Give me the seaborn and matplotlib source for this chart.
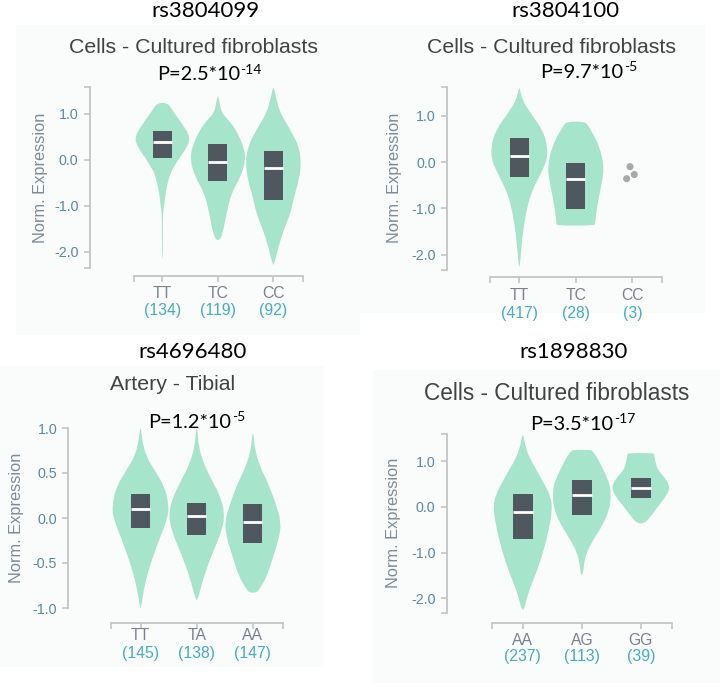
# GTEx style eQTL violin plots, four SNPs

import numpy as np
import matplotlib.pyplot as plt
import seaborn as sns
from matplotlib.path import Path
from matplotlib.patches import PathPatch, Rectangle

# ---- data ----
# panel 1
p1_snp = 'rs3804099'
p1_tissue = 'Cells - Cultured fibroblasts'
p1_pval = ('2.5', '-14')
p1_genos = ['TT', 'TC', 'CC']
p1_counts = [134, 119, 92]
p1_yticks = [-2.0, -1.0, 0.0, 1.0]
p1_y = [[-2.15, -1.6, -1.15, -1.0, -0.65, -0.29, -0.15, 0.0, 0.29, 0.51, 0.80, 1.09, 1.24],
        [-1.74, -1.52, -1.16, -0.72, -0.36, 0.0, 0.29, 0.65, 0.85, 1.02, 1.21, 1.39],
        [-2.28, -1.88, -1.52, -1.16, -0.8, -0.43, -0.07, 0.29, 0.65, 1.02, 1.3, 1.58]]
p1_w = [[0.4, 0.5, 0.6, 1.7, 3.7, 8, 12, 16, 26, 28.7, 20, 10, 5.5],
        [2.5, 5.7, 9, 14, 24, 29, 27, 19, 12, 4, 2, 0.5],
        [0.7, 5, 10, 16.7, 20, 25, 27, 25, 16.7, 6.7, 3, 0.5]]
p1_q1 = [0.04, -0.45, -0.87]
p1_med = [0.40, -0.05, -0.17]
p1_q3 = [0.64, 0.34, 0.19]

# panel 2
p2_snp = 'rs3804100'
p2_tissue = 'Cells - Cultured fibroblasts'
p2_pval = ('9.7', '-5')
p2_genos = ['TT', 'TC', 'CC']
p2_counts = [417, 28, 3]
p2_yticks = [-2.0, -1.0, 0.0, 1.0]
p2_y = [[-2.26, -1.83, -1.39, -0.96, -0.6, -0.24, 0.04, 0.33, 0.69, 1.05, 1.34, 1.59],
        [-1.37, -1.33, -1.1, -0.75, -0.39, -0.1, 0.33, 0.62, 0.80, 0.87]]
p2_w = [[0.5, 2, 4.3, 7.7, 12.7, 21, 26.7, 27.3, 22.7, 11, 2.7, 0.5],
        [18.3, 18.6, 19.7, 22.3, 25.7, 27.3, 23, 16.3, 11.5, 8.3]]
p2_q1 = [-0.33, -1.02]
p2_med = [0.13, -0.37]
p2_q3 = [0.52, -0.02]
p2_cc_values = [-0.10, -0.27, -0.36]
p2_cc_jitter = [-0.04, 0.035, -0.10]

# panel 3
p3_snp = 'rs4696480'
p3_tissue = 'Artery - Tibial'
p3_pval = ('1.2', '-5')
p3_genos = ['TT', 'TA', 'AA']
p3_counts = [145, 138, 147]
p3_yticks = [-1.0, -0.5, 0.0, 0.5, 1.0]
p3_y = [[-1.0, -0.8, -0.61, -0.43, -0.21, 0.01, 0.16, 0.35, 0.53, 0.68, 0.87, 1.0],
        [-0.91, -0.73, -0.5, -0.32, -0.13, 0.05, 0.24, 0.42, 0.61, 0.79, 1.0],
        [-0.83, -0.8, -0.65, -0.43, -0.21, -0.04, 0.16, 0.39, 0.57, 0.76, 0.94]]
p3_w = [[0.5, 3, 7, 12, 19, 26.5, 27, 23, 13.8, 5.5, 1.5, 0.5],
        [1, 5, 11.7, 18.3, 25, 27.7, 23.3, 15, 6.7, 2, 0.5],
        [3, 5.8, 13.5, 19.5, 25.5, 27, 22, 14.5, 6.8, 2, 0.5]]
p3_q1 = [-0.11, -0.19, -0.28]
p3_med = [0.10, 0.02, -0.04]
p3_q3 = [0.27, 0.17, 0.16]

# panel 4
p4_snp = 'rs1898830'
p4_tissue = 'Cells - Cultured fibroblasts'
p4_pval = ('3.5', '-17')
p4_genos = ['AA', 'AG', 'GG']
p4_counts = [237, 113, 39]
p4_yticks = [-2.0, -1.0, 0.0, 1.0]
p4_y = [[-2.25, -1.96, -1.74, -1.38, -0.94, -0.5, -0.07, 0.23, 0.59, 0.96, 1.25, 1.58],
        [-1.49, -1.23, -1.01, -0.72, -0.43, -0.07, 0.3, 0.59, 0.96, 1.10, 1.22, 1.25],
        [-0.36, -0.21, 0.01, 0.23, 0.44, 0.66, 0.81, 1.0, 1.15, 1.18]]
p4_w = [[1, 4.5, 7.8, 14.5, 21, 26, 29.5, 28, 19.5, 9.5, 3.3, 0.5],
        [1, 2.2, 4.5, 11, 19.5, 27, 28.8, 26, 17.8, 14.5, 10.5, 9],
        [3.5, 9, 16, 23.5, 27.5, 22, 15.7, 13.5, 12.3, 12]]
p4_q1 = [-0.71, -0.18, 0.19]
p4_med = [-0.12, 0.26, 0.42]
p4_q3 = [0.28, 0.58, 0.64]

# ---- layout (pixels in the 720x683 picture) ----
W, H = 720, 683
layouts = [
    dict(yaxis_x=89.5, cat0=162.4, dx=55.5, zero=160, unit=46, xaxis_y=275.7, ytop=1.59, ybot=-2.35,
         geno_dy=17.6, count_dy=35.3, ylab=(40, 177.5), title=(205.5, 17), tissue=(193.3, 53, 15.3),
         pstart=(156.7, 80.5)),
    dict(yaxis_x=447, cat0=519.3, dx=56.5, zero=162, unit=46.4, xaxis_y=277, ytop=1.61, ybot=-2.33,
         geno_dy=18, count_dy=36.3, ylab=(395, 178), title=(565, 17), tissue=(551.7, 52.7, 15.3),
         pstart=(540, 78)),
    dict(yaxis_x=68.3, cat0=140.5, dx=56.2, zero=518, unit=90, xaxis_y=623.3, ytop=1.0, ybot=-1.0,
         geno_dy=12.5, count_dy=30, ylab=(16.7, 518), title=(192.5, 358.3), tissue=(172.7, 390, 15.3),
         pstart=(148.3, 428)),
    dict(yaxis_x=446.7, cat0=522.8, dx=59, zero=507, unit=45.7, xaxis_y=623.3, ytop=1.6, ybot=-2.32,
         geno_dy=17, count_dy=33.3, ylab=(393.3, 523), title=(574, 358.3), tissue=(556.7, 400, 16.3),
         pstart=(530, 430)),
]
bg_boxes = [(16, 25, 360, 335), (360, 25, 705, 313), (0, 366, 323, 667), (373, 370, 720, 683)]

VIOLIN = '#a6e4cc'
BOX = '#4e585e'
AXIS = '#c4c4c4'
TICK = '#5889a8'
YLAB = '#7c8b99'
GENO = '#7b8190'
COUNT = '#44a9cb'
DOT = '#a8a8a8'

sns.set_theme(style='white')
plt.rcParams['font.family'] = ['Liberation Sans', 'DejaVu Sans']


def violin_path(cx, ys, ws, half):
    # smooth outline through the read widths (quadratic bezier, read points as controls)
    ys = np.asarray(ys, float)
    w = np.asarray(ws, float) / max(ws) * half
    right = np.column_stack([cx + w, ys])
    left = np.column_stack([cx - w, ys])[::-1]
    pts = np.vstack([right, left])
    mids = (pts + np.roll(pts, -1, axis=0)) / 2
    verts = [mids[-1]]
    codes = [Path.MOVETO]
    for i in range(len(pts)):
        verts += [pts[i], mids[i]]
        codes += [Path.CURVE3, Path.CURVE3]
    verts.append(mids[-1])
    codes.append(Path.CLOSEPOLY)
    return Path(verts, codes)


fig = plt.figure(figsize=(W / 100, H / 100), dpi=100)
bg = fig.add_axes([0, 0, 1, 1], zorder=-5)
bg.set_xlim(0, W)
bg.set_ylim(H, 0)
bg.axis('off')
for x0, y0, x1, y1 in bg_boxes:
    bg.add_patch(Rectangle((x0, y0), x1 - x0, y1 - y0, color='#fafbfb', lw=0))


def draw_panel(lay, snp, tissue, pval, genos, counts, yticks, prof_y, prof_w, q1, med, q3,
               dot_vals=None, dot_jit=None):
    x_left = (lay['yaxis_x'] - lay['cat0']) / lay['dx']
    x_right = 2.53
    y_bot = (lay['zero'] - lay['xaxis_y']) / lay['unit']
    y_top = lay['ytop']
    px0, px1 = lay['yaxis_x'], lay['cat0'] + x_right * lay['dx']
    py_top, py_bot = lay['zero'] - y_top * lay['unit'], lay['xaxis_y']
    ax = fig.add_axes([px0 / W, 1 - py_bot / H, (px1 - px0) / W, (py_bot - py_top) / H])
    ax.patch.set_visible(False)

    # violins, boxes, medians
    for i, (ys, ws) in enumerate(zip(prof_y, prof_w)):
        ax.add_patch(PathPatch(violin_path(i, ys, ws, 0.5), fc=VIOLIN, ec='none', zorder=2, clip_on=False))
    cats = np.arange(len(q1))
    ax.bar(cats, np.subtract(q3, q1), bottom=q1, width=0.34, color=BOX, linewidth=0, zorder=3)
    ax.hlines(med, cats - 0.17, cats + 0.17, color='white', lw=2, zorder=4)
    if dot_vals is not None:
        sns.scatterplot(x=2 + np.array(dot_jit), y=dot_vals, ax=ax, color=DOT, s=26,
                        edgecolor='none', zorder=3, legend=False, clip_on=False)

    ax.set_xlim(x_left, x_right)
    ax.set_ylim(y_bot, y_top)
    ax.set_xlabel('')
    ax.set_ylabel('')

    # d3-like axes
    for s in ['top', 'right']:
        ax.spines[s].set_visible(False)
    for s in ['left', 'bottom']:
        ax.spines[s].set_color(AXIS)
        ax.spines[s].set_linewidth(1.3)
    ax.spines['left'].set_bounds(lay['ybot'], y_top)
    ax.spines['bottom'].set_bounds(-0.52, x_right)
    ax.set_yticks(yticks)
    ax.set_yticklabels([f'{v:.1f}' for v in yticks])
    ax.set_yticks([lay['ybot'], y_top], minor=True)
    ax.set_xticks(range(len(genos)))
    ax.set_xticklabels([])
    ax.set_xticks([-0.52, x_right], minor=True)
    ax.tick_params(which='both', direction='out', length=4.5, width=1.2, color=AXIS,
                   left=True, bottom=True)
    ax.tick_params(axis='y', labelsize=10.3, labelcolor=TICK, pad=3.5)

    for i, (g, n) in enumerate(zip(genos, counts)):
        ax.annotate(g, xy=(i, 0), xycoords=('data', 'axes fraction'), xytext=(0, -lay['geno_dy'] * 0.72),
                    textcoords='offset points', ha='center', va='center', fontsize=11.3, color=GENO)
        ax.annotate(f'({n})', xy=(i, 0), xycoords=('data', 'axes fraction'),
                    xytext=(0, -lay['count_dy'] * 0.72), textcoords='offset points',
                    ha='center', va='center', fontsize=11.3, color=COUNT)

    # texts around the panel
    bg.text(*lay['ylab'], 'Norm. Expression', rotation=90, ha='center', va='center',
            fontsize=11.8, color=YLAB)
    bg.text(*lay['title'], snp, ha='center', va='baseline', fontsize=16, family='Lato', color='black')
    tx, ty, tfs = lay['tissue']
    bg.text(tx, ty, tissue, ha='center', va='baseline', fontsize=tfs, color='#424242')
    t = bg.text(*lay['pstart'], f'P={pval[0]}*10', ha='left', va='baseline', fontsize=14.4,
                family='Lato', color='black')
    bg.annotate(pval[1], xy=(1, 1), xycoords=t, xytext=(0.5, 2), textcoords='offset points',
                ha='left', va='top', fontsize=10, family='Lato', color='black')
    return ax


draw_panel(layouts[0], p1_snp, p1_tissue, p1_pval, p1_genos, p1_counts, p1_yticks,
           p1_y, p1_w, p1_q1, p1_med, p1_q3)
draw_panel(layouts[1], p2_snp, p2_tissue, p2_pval, p2_genos, p2_counts, p2_yticks,
           p2_y, p2_w, p2_q1, p2_med, p2_q3, p2_cc_values, p2_cc_jitter)
draw_panel(layouts[2], p3_snp, p3_tissue, p3_pval, p3_genos, p3_counts, p3_yticks,
           p3_y, p3_w, p3_q1, p3_med, p3_q3)
draw_panel(layouts[3], p4_snp, p4_tissue, p4_pval, p4_genos, p4_counts, p4_yticks,
           p4_y, p4_w, p4_q1, p4_med, p4_q3)

fig.savefig('out.png', dpi=100)
